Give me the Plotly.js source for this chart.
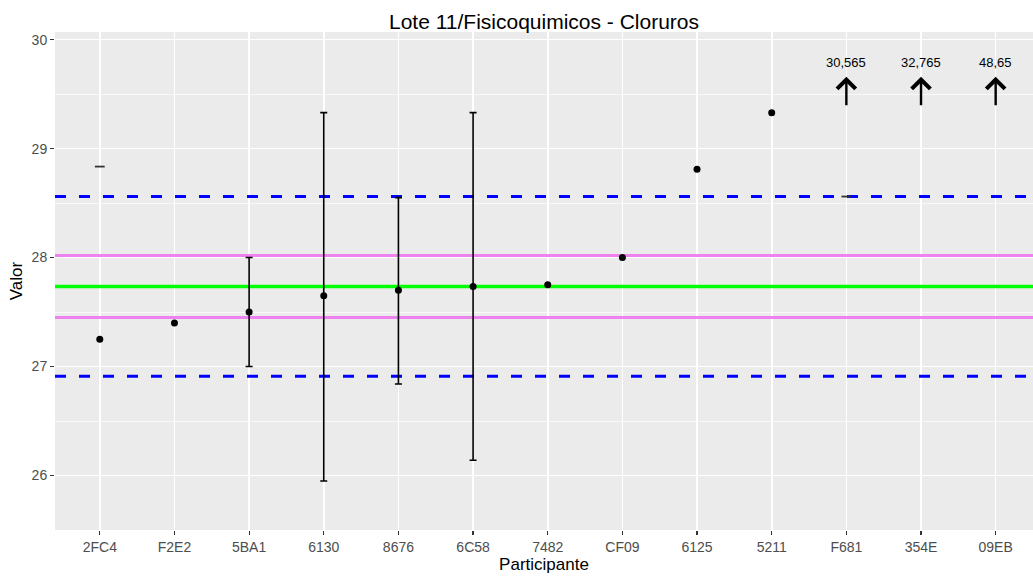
<!DOCTYPE html>
<html>
<head>
<meta charset="utf-8">
<script src="https://cdn.plot.ly/plotly-3.0.1.min.js"></script>
<style>html,body{margin:0;padding:0;background:#fff;}#chart{width:1033px;height:577px;}</style>
</head>
<body>
<div id="chart"></div>
<script>
// Data
const participants = ["2FC4","F2E2","5BA1","6130","8676","6C58","7482","CF09","6125","5211","F681","354E","09EB"];
const values      = [27.25, 27.40, 27.50, 27.65, 27.70, 27.735, 27.75, 28.00, 28.81, 29.33, null, null, null];
const errUpper    = [null, null, 28.00, 29.33, 28.55, 29.33, null, null, null, null, null, null, null];
const errLower    = [null, null, 27.00, 25.95, 26.84, 26.14, null, null, null, null, null, null, null];
const capOnly     = [28.835, null, null, null, null, null, null, null, null, null, 28.56, null, null];
const outParticipants = ["F681","354E","09EB"];
const outValues       = ["30,565","32,765","48,65"];

const assignedValue = 27.735;   // green
const innerLimits   = [28.02, 27.45];  // violet
const outerLimits   = [28.56, 26.91];  // blue dashed
const yTicks = [26, 27, 28, 29, 30];
const yRange = [25.5, 30.07];
const arrowBase = 29.385, arrowTip = 29.66, labelY = 29.79;

const traces = [];
// reference lines on the hidden base x axis spanning the panel
function hline(y, color, width, dash){
  traces.push({type:'scatter', mode:'lines', xaxis:'x', yaxis:'y', x:[0,1], y:[y,y],
    line:{color:color, width:width, dash:dash}, hoverinfo:'skip', showlegend:false});
}
outerLimits.forEach(v=>hline(v,'#0000ff',3,'11px,13px'));
innerLimits.forEach(v=>hline(v,'#ee82ee',3,'solid'));
hline(assignedValue,'#00ff00',3.5,'solid');

// error bars
const ebx = [], eby = [], ebp = [], ebm = [];
participants.forEach((p,i)=>{
  if (errUpper[i] !== null) {
    ebx.push(p); eby.push(values[i]);
    ebp.push(errUpper[i]-values[i]); ebm.push(values[i]-errLower[i]);
  }
});
traces.push({
  type:'scatter', mode:'markers', xaxis:'x2', x:ebx, y:eby,
  marker:{size:0.1, color:'rgba(0,0,0,0)'},
  error_y:{type:'data', symmetric:false, array:ebp, arrayminus:ebm, color:'#000', thickness:1.6, width:3.5},
  hoverinfo:'skip', showlegend:false
});
// caps only
traces.push({
  type:'scatter', mode:'markers', xaxis:'x2', x:participants, y:capOnly,
  marker:{symbol:'line-ew', size:7, line:{width:1.8, color:'#333333'}},
  showlegend:false
});
// points
traces.push({
  type:'scatter', mode:'markers', xaxis:'x2', x:participants, y:values,
  marker:{size:7, color:'#000'}, showlegend:false
});

const annotations = [];
outParticipants.forEach((p,i)=>{
  annotations.push({x:p, y:arrowTip, xref:'x2', yref:'y', ax:0, ay:arrowBase, axref:'pixel', ayref:'y',
    showarrow:true, arrowhead:4, arrowsize:1.5, arrowwidth:2.4, arrowcolor:'#000', text:''});
  annotations.push({x:p, y:labelY, xref:'x2', yref:'y', showarrow:false, text:outValues[i],
    font:{family:'Liberation Sans, Arial, sans-serif', size:13, color:'#000'}});
});

const layout = {
  width:1033, height:577,
  margin:{l:55, r:0, t:32, b:47},
  paper_bgcolor:'#ffffff', plot_bgcolor:'#ebebeb',
  font:{family:'Liberation Sans, Arial, sans-serif'},
  title:{text:'Lote 11/Fisicoquimicos - Cloruros', x:0.5, xref:'paper', y:0.963, yanchor:'middle',
    font:{size:21, color:'#000'}},
  xaxis:{range:[0,1], visible:false, showgrid:false, zeroline:false, fixedrange:true},
  xaxis2:{overlaying:'x', side:'bottom', anchor:'y', type:'category', categoryorder:'array', categoryarray:participants,
    range:[-0.6, 12.5], showgrid:true, gridcolor:'#ffffff', gridwidth:1.6, zeroline:false,
    ticks:'outside', ticklen:4, tickcolor:'#333333', tickwidth:1.2,
    tickfont:{size:14, color:'#4d4d4d'}, showline:false,
    title:{text:'Participante', font:{size:17, color:'#000'}, standoff:2}},
  yaxis:{range:yRange, tickvals:yTicks, showgrid:true, gridcolor:'#ffffff', gridwidth:1.6, zeroline:false,
    minor:{dtick:0.5, tick0:0, showgrid:true, gridcolor:'#ffffff', gridwidth:0.7},
    ticks:'outside', ticklen:4, tickcolor:'#333333', tickwidth:1.2,
    tickfont:{size:14, color:'#4d4d4d'}, showline:false,
    title:{text:'Valor', font:{size:17, color:'#000'}, standoff:4}},
  annotations:annotations, showlegend:false
};
Plotly.newPlot('chart', traces, layout, {displayModeBar:false, staticPlot:true});
</script>
</body>
</html>
